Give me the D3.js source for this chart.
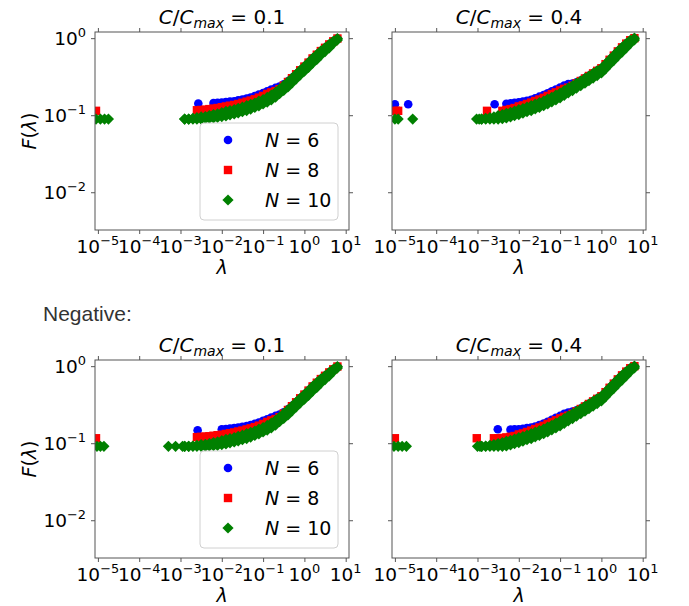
<!DOCTYPE html>
<html>
<head>
<meta charset="utf-8">
<script src="https://cdn.jsdelivr.net/npm/d3@7"></script>
<style>
  body { margin: 0; background: #fff; }
  svg { display: block; }
</style>
</head>
<body>
<svg id="fig" width="689" height="606"></svg>
<script>
// lambda values of the main bands (0.1 decade apart, 1.26e-3 .. 6.3)
var lam = [0.00126,0.00158,0.0020,0.0025,0.00316,0.0040,0.0050,0.0063,0.0079,0.010,
  0.0126,0.0158,0.020,0.025,0.0316,0.040,0.050,0.063,0.079,0.10,
  0.126,0.158,0.20,0.25,0.316,0.40,0.50,0.63,0.79,1.0,
  1.26,1.58,2.0,2.5,3.16,4.0,5.0,6.3]

var xTicks = [1e-5,1e-4,1e-3,1e-2,1e-1,1,10]
var xTickExp = ["\u22125","\u22124","\u22123","\u22122","\u22121","0","1"]
var yTicks = [1,0.1,0.01]
var yTickExp = ["0","\u22121","\u22122"]
var legendN = ["6","8","10"]
var colors = ["#0000ff","#ff0000","#008000"]
var titles = ["0.1","0.4","0.1","0.4"]

// top-left: C/Cmax = 0.1
var tlBlue = [null,null,null,null,null,null,null,.144,.145,.146,.148,.150,.152,.156,.16,.165,.17,.177,.185,.194,.204,.216,.226,.236,.252,.275,.305,.34,.383,.428,.482,.546,.61,.68,.75,.83,.91,.99]
var tlRed = [null,null,null,.116,.117,.118,.12,.122,.124,.127,.13,.133,.136,.14,.145,.15,.155,.161,.169,.178,.189,.198,.206,.218,.242,.27,.302,.34,.383,.428,.482,.546,.61,.68,.75,.83,.91,.99]
var tlGreenLo = [.089,.089,.089,.089,.089,.090,.091,.092,.094,.096,.098,.101,.104,.107,.111,.115,.120,.126,.132,.140,.148,.158,.172,.19,.21,.233,.262,.296,.333,.372,.418,.474,.53,.60,.67,.75,.85,.95]
var tlGreenHi = [.089,.089,.091,.093,.095,.096,.099,.102,.104,.108,.112,.115,.118,.123,.127,.133,.138,.144,.152,.160,.170,.182,.198,.218,.242,.27,.302,.34,.383,.428,.482,.546,.61,.68,.75,.83,.91,.99]
var tlBlueOut = [[0.0027,0.142]]
var tlRedOut = [[9e-6,0.114]]
var tlGreenOut = [[9e-6,0.089],[1.15e-5,0.089],[1.45e-5,0.089],[1.8e-5,0.089]]

// top-right: C/Cmax = 0.4
var trBlue = [null,null,null,null,null,null,.141,.143,.145,.147,.15,.154,.159,.166,.174,.183,.193,.204,.216,.229,.243,.254,.258,.268,.282,.303,.325,.35,.377,.407,.46,.524,.594,.674,.76,.85,.94,1.0]
var trRed = [null,null,null,null,null,.114,.117,.12,.124,.13,.134,.14,.146,.153,.16,.168,.178,.188,.198,.21,.22,.228,.241,.259,.278,.30,.323,.349,.377,.407,.46,.524,.594,.674,.76,.85,.94,1.0]
var trGreenLo = [.089,.089,.089,.089,.089,.090,.092,.095,.099,.102,.106,.111,.115,.121,.126,.133,.14,.149,.158,.168,.181,.195,.209,.225,.242,.26,.281,.303,.327,.353,.40,.456,.516,.586,.66,.75,.85,.95]
var trGreenHi = [.089,.091,.093,.095,.099,.102,.106,.109,.113,.118,.122,.127,.133,.139,.146,.153,.162,.171,.182,.194,.209,.225,.241,.259,.278,.30,.323,.349,.377,.407,.46,.524,.594,.674,.76,.85,.94,1.0]
var trBlueOut = [[1e-5,0.139],[2.1e-5,0.139],[0.0026,0.139]]
var trRedOut = [[1.05e-5,0.114],[1.2e-5,0.114],[0.0017,0.114]]
var trGreenOut = [[1e-5,0.089],[1.2e-5,0.089],[2.7e-5,0.089],[9.5e-4,0.089],[1.1e-3,0.089]]

// negative, C/Cmax = 0.1
var blBlue = [null,null,null,null,null,null,null,null,null,.152,.153,.155,.157,.16,.163,.167,.172,.178,.186,.195,.205,.216,.226,.236,.252,.275,.305,.34,.383,.428,.482,.546,.61,.68,.75,.83,.91,.99]
var blRed = [null,null,null,.12,.121,.122,.123,.125,.127,.129,.132,.135,.138,.142,.146,.151,.156,.162,.169,.178,.189,.198,.206,.218,.242,.27,.302,.34,.383,.428,.482,.546,.61,.68,.75,.83,.91,.99]
var blGreenLo = [.091,.091,.091,.091,.091,.091,.092,.093,.094,.096,.098,.101,.104,.107,.111,.115,.120,.126,.132,.140,.148,.158,.172,.19,.21,.233,.262,.296,.333,.372,.418,.474,.53,.60,.67,.75,.85,.95]
var blGreenHi = [.091,.091,.092,.094,.096,.097,.099,.102,.104,.108,.112,.115,.118,.123,.127,.133,.138,.144,.152,.160,.170,.182,.198,.218,.242,.27,.302,.34,.383,.428,.482,.546,.61,.68,.75,.83,.91,.99]
var blBlueOut = [[0.0026,0.147]]
var blRedOut = [[9e-6,0.116]]
var blGreenOut = [[9.5e-6,0.091],[1.15e-5,0.091],[1.4e-5,0.091],[5.1e-4,0.091],[7.6e-4,0.091],[1.12e-3,0.091]]

// negative, C/Cmax = 0.4
var brBlue = [null,null,null,null,null,null,null,.15,.151,.152,.154,.157,.16,.165,.172,.18,.19,.201,.213,.226,.24,.25,.258,.268,.282,.303,.325,.35,.377,.407,.46,.524,.594,.674,.76,.85,.94,1.0]
var brRed = [null,null,null,.116,.116,.117,.119,.121,.124,.13,.134,.14,.146,.153,.16,.168,.178,.188,.198,.21,.22,.228,.241,.259,.278,.30,.323,.349,.377,.407,.46,.524,.594,.674,.76,.85,.94,1.0]
var brGreenLo = [.091,.091,.091,.091,.091,.091,.092,.095,.099,.102,.106,.111,.115,.121,.126,.133,.14,.149,.158,.168,.181,.195,.209,.225,.242,.26,.281,.303,.327,.353,.40,.456,.516,.586,.66,.75,.85,.95]
var brGreenHi = [.091,.092,.094,.096,.099,.102,.106,.109,.113,.118,.122,.127,.133,.139,.146,.153,.162,.171,.182,.194,.209,.225,.241,.259,.278,.30,.323,.349,.377,.407,.46,.524,.594,.674,.76,.85,.94,1.0]
var brBlueOut = [[0.0031,0.152]]
var brRedOut = [[1e-5,0.116],[9.6e-4,0.116]]
var brGreenOut = [[9.5e-6,0.091],[1.2e-5,0.091],[1.5e-5,0.091],[1.9e-5,0.091],[1e-3,0.091],[1.15e-3,0.091]]

var panels = [
  {x: 95,  y: 32,  title: titles[0], left: true,  series: [[tlBlue], [tlRed], [tlGreenLo, tlGreenHi]], out: [tlBlueOut, tlRedOut, tlGreenOut]},
  {x: 392, y: 32,  title: titles[1], left: false, series: [[trBlue], [trRed], [trGreenLo, trGreenHi]], out: [trBlueOut, trRedOut, trGreenOut]},
  {x: 95,  y: 360, title: titles[2], left: true,  series: [[blBlue], [blRed], [blGreenLo, blGreenHi]], out: [blBlueOut, blRedOut, blGreenOut]},
  {x: 392, y: 360, title: titles[3], left: false, series: [[brBlue], [brRed], [brGreenLo, brGreenHi]], out: [brBlueOut, brRedOut, brGreenOut]}
]

var W = 254, H = 198
var font = "DejaVu Sans, sans-serif"
var tickSize = 18.5
var svg = d3.select("#fig")

function marker(k) {
  if (k == 0) return d3.symbol(d3.symbolCircle, Math.PI * 4.3 * 4.3)()
  if (k == 1) return "M-4.2,-4.2H4.2V4.2H-4.2Z"
  return "M0,-5.6L5.6,0L0,5.6L-5.6,0Z"
}

function powLabel(sel, exp, size) {
  sel.append("tspan").text("10")
  sel.append("tspan").attr("dy", -size * 0.42).attr("font-size", size * 0.7).text(exp)
}

panels.forEach(function(p, pi) {
  var x = d3.scaleLog().domain([Math.pow(10, -5.07), Math.pow(10, 1.08)]).range([0, W])
  var y = d3.scaleLog().domain([Math.pow(10, -2.49), Math.pow(10, 0.08)]).range([H, 0])

  var g = svg.append("g").attr("transform", "translate(" + p.x + "," + p.y + ")")

  g.append("clipPath").attr("id", "clip" + pi)
    .append("rect").attr("width", W).attr("height", H)

  var pts = g.append("g").attr("clip-path", "url(#clip" + pi + ")")
  for (let k = 0; k < 3; k++) {
    var data = []
    p.series[k].forEach(function(arr) {
      arr.forEach(function(v, i) { if (v != null) data.push([lam[i], v]) })
    })
    data = p.out[k].concat(data)
    pts.selectAll(".s" + k).data(data).enter().append("path")
      .attr("class", "s" + k)
      .attr("d", marker(k))
      .attr("transform", d => "translate(" + x(d[0]) + "," + y(d[1]) + ")")
      .attr("fill", colors[k])
  }

  // axes with outward ticks on all four sides
  var tickFmt = function() { return "" }
  g.append("g").attr("transform", "translate(0," + H + ")")
    .call(d3.axisBottom(x).tickValues(xTicks).tickSize(4).tickSizeOuter(0).tickFormat(tickFmt))
  g.append("g")
    .call(d3.axisTop(x).tickValues(xTicks).tickSize(4).tickSizeOuter(0).tickFormat(tickFmt))
  g.append("g")
    .call(d3.axisLeft(y).tickValues(yTicks).tickSize(4).tickSizeOuter(0).tickFormat(tickFmt))
  g.append("g").attr("transform", "translate(" + W + ",0)")
    .call(d3.axisRight(y).tickValues(yTicks).tickSize(4).tickSizeOuter(0).tickFormat(tickFmt))
  g.selectAll(".domain").remove()
  g.selectAll(".tick line").attr("stroke", "#555")
  g.append("rect").attr("width", W).attr("height", H)
    .attr("fill", "none").attr("stroke", "#555").attr("stroke-width", 1)

  // x tick labels
  xTicks.forEach(function(t, i) {
    var tx = g.append("text").attr("x", x(t)).attr("y", H + 23)
      .attr("text-anchor", "middle").attr("font-family", font).attr("font-size", tickSize)
    powLabel(tx, xTickExp[i], tickSize)
  })
  // x label
  g.append("text").attr("x", W / 2).attr("y", H + 44).attr("text-anchor", "middle")
    .attr("font-family", font).attr("font-size", 19).attr("font-style", "italic").text("\u03bb")

  if (p.left) {
    yTicks.forEach(function(t, i) {
      var ty = g.append("text").attr("x", -9).attr("y", y(t) + 7)
        .attr("text-anchor", "end").attr("font-family", font).attr("font-size", tickSize)
      powLabel(ty, yTickExp[i], tickSize)
    })
    var yl = g.append("text").attr("transform", "translate(-59," + (H / 2) + ") rotate(-90)")
      .attr("text-anchor", "middle").attr("font-family", font).attr("font-size", 19)
    yl.append("tspan").attr("font-style", "italic").text("F")
    yl.append("tspan").text("(")
    yl.append("tspan").attr("font-style", "italic").text("\u03bb")
    yl.append("tspan").text(")")

    // legend
    var lg = g.append("g").attr("transform", "translate(105,91)")
    lg.append("rect").attr("width", 138).attr("height", 97).attr("rx", 4)
      .attr("fill", "#fff").attr("fill-opacity", 0.85).attr("stroke", "#d0d0d0")
    legendN.forEach(function(n, k) {
      var cy = 17 + k * 30
      lg.append("path").attr("d", marker(k)).attr("fill", colors[k])
        .attr("transform", "translate(28," + cy + ")")
      var lt = lg.append("text").attr("x", 65).attr("y", cy + 7)
        .attr("font-family", font).attr("font-size", 19)
      lt.append("tspan").attr("font-style", "italic").text("N")
      lt.append("tspan").text(" = " + n)
    })
  }

  // title
  var tt = g.append("text").attr("x", W / 2).attr("y", -8).attr("text-anchor", "middle")
    .attr("font-family", font).attr("font-size", 20)
  tt.append("tspan").attr("font-style", "italic").text("C")
  tt.append("tspan").text("/")
  tt.append("tspan").attr("font-style", "italic").text("C")
  tt.append("tspan").attr("font-style", "italic").attr("font-size", 14).attr("dy", 4).text("max")
  tt.append("tspan").attr("dy", -4).text(" = " + p.title)
})

svg.append("text").attr("x", 43).attr("y", 321)
  .attr("font-family", "Liberation Sans, Arial, sans-serif").attr("font-size", 21)
  .attr("fill", "#333").text("Negative:")
</script>
</body>
</html>
